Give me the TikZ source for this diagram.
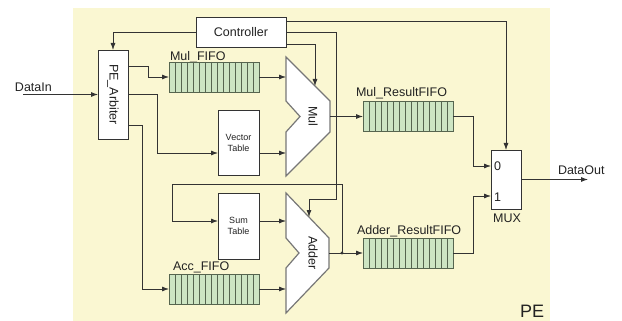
\documentclass[tikz,border=0pt]{standalone}
\usepackage{fontspec}
\setmainfont{Liberation Sans}
\usetikzlibrary{arrows.meta,calc}
\definecolor{bgc}{HTML}{FAF7D2}
\definecolor{fifofill}{HTML}{CDE5C3}
\definecolor{fifoline}{HTML}{56654F}
\definecolor{linec}{HTML}{333333}
\definecolor{textc}{HTML}{222222}
\definecolor{trapc}{HTML}{777777}
\begin{document}
\begin{tikzpicture}[x=1pt,y=-1pt,
  every node/.style={text=textc},
  txt/.style={font=\fontsize{12.5}{14}\selectfont, inner sep=0pt, outer sep=0pt},
  box/.style={draw=linec, fill=white, line width=0.8pt, inner sep=0pt, outer sep=0pt, align=center, font=\fontsize{12.5}{14}\selectfont},
  smallbox/.style={box, font=\fontsize{9}{11}\selectfont},
  fifo/.style={draw=fifoline, fill=fifofill, line width=0.8pt, inner sep=0pt, outer sep=0pt, minimum width=90pt, minimum height=30pt},
  cellline/.style={draw=fifoline, line width=0.8pt},
  trap/.style={draw=trapc, fill=white, line width=1.2pt, line join=miter},
  conn/.style={draw=linec, line width=0.8pt},
  arr/.style={conn, -{Latex[length=7pt,width=5pt]}}
]
\useasboundingbox (0,0) rectangle (622,321);
\fill[bgc] (73,8) rectangle (550,321);

% labels above FIFOs
\node[txt, anchor=base west] (lmf) at (170,61) {Mul\_FIFO};
\node[txt, anchor=base west] (laf) at (173,270.5) {Acc\_FIFO};
\node[txt, anchor=base west] (lmr) at (356,97) {Mul\_ResultFIFO};
\node[txt, anchor=base west] (lar) at (357,234) {Adder\_ResultFIFO};

% boxes
\node[box, minimum width=90pt, minimum height=30pt] (ctrl) at (241,32) {Controller};
\node[box, minimum width=30pt, minimum height=89pt] (arb) at (113,94.5) {};
\node[txt, rotate=-90] (arbtxt) at (113,94.5) {PE\_Arbiter};
\node[smallbox, minimum width=41pt, minimum height=65pt] (vt) at (238.5,142.5) {Vector\\Table};
\node[smallbox, minimum width=41pt, minimum height=66pt] (st) at (238.5,226) {Sum\\Table};
\node[box, minimum width=30pt, minimum height=59pt] (mux) at (506,179.5) {};

% FIFOs
\node[fifo] (mulfifo) at (214,77) {};
\node[fifo] (accfifo) at (214,289) {};
\node[fifo] (mrfifo) at (408,116.5) {};
\node[fifo] (arfifo) at (408,253) {};
\foreach \n in {mulfifo,accfifo,mrfifo,arfifo}{
  \foreach \i in {1,...,14}{
    \draw[cellline] ($(\n.north west)+(\i*6,0)$) -- ($(\n.south west)+(\i*6,0)$);
  }
}

% Mul and Adder
\draw[trap] (286,57) -- (330,101) -- (330,132) -- (286,176) -- (286,132) -- (300,116.5) -- (286,101) -- cycle;
\node[txt, rotate=-90] (mul) at (313,116.5) {Mul};
\draw[trap] (286,193) -- (329,238) -- (329,268) -- (286,313) -- (286,268) -- (299,253) -- (286,238) -- cycle;
\node[txt, rotate=-90] (adder) at (313,253) {Adder};

\coordinate (mulin1) at (286,77);
\coordinate (mulin2) at (286,153);
\coordinate (mulout) at (330,116.5);
\coordinate (mulctl) at (315,86);
\coordinate (addin1) at (286,221);
\coordinate (addin2) at (286,289);
\coordinate (addout) at (329,253);
\coordinate (addctl) at (309,217);
\coordinate (fb) at (342,253);
\coordinate (din) at (23,94.5);
\coordinate (dout) at (588,179.5);

% MUX texts
\node[txt, anchor=base west] (m0) at (494,171) {0};
\node[txt, anchor=base west] (m1) at (494,201) {1};
\node[txt, anchor=base] (muxl) at (507,222) {MUX};
\node[txt, anchor=base west] (dinl) at (15,92) {DataIn};
\node[txt, anchor=base west] (doutl) at (558,174) {DataOut};
\node[txt, anchor=base west, font=\fontsize{18}{20}\selectfont] (pel) at (520,317) {PE};

% connectors
\draw[arr] (din) -- (arb.west);
\draw[arr] (arb.east |- 0,66) -- (148,66) |- (mulfifo.west);
\draw[arr] (arb.east) -- (157,94.5) |- (vt.west |- mulin2);
\draw[arr] (arb.east |- 0,125) -- (142,125) |- (accfifo.west);
\draw[arr] (mulfifo.east) -- (mulin1);
\draw[arr] (vt.east |- mulin2) -- (mulin2);
\draw[arr] (st.east |- addin1) -- (addin1);
\draw[arr] (accfifo.east) -- (addin2);
\draw[arr] (mulout) -- (mrfifo.west);
\draw[arr] (addout) -- (arfifo.west);
\draw[arr] (fb) -- (342,184) -- (172,184) |- (st.west |- addin1);
\fill[linec] (fb) circle (1.6pt);
\draw[arr] (mrfifo.east) -- (473,116.5) |- (mux.west |- 0,166);
\draw[arr] (arfifo.east) -- (473,253) |- (mux.west |- 0,196);
\draw[arr] (mux.east) -- (dout);
% controller
\draw[arr] (ctrl.west) -| (arb.north);
\draw[arr] (ctrl.east |- 0,21) -| (mux.north);
\draw[arr] (ctrl.east) -- (336,32) -- (336,199) -- (309,199) -- (addctl);
\draw[arr] (ctrl.east |- 0,44) -| (mulctl);
\end{tikzpicture}
\end{document}
